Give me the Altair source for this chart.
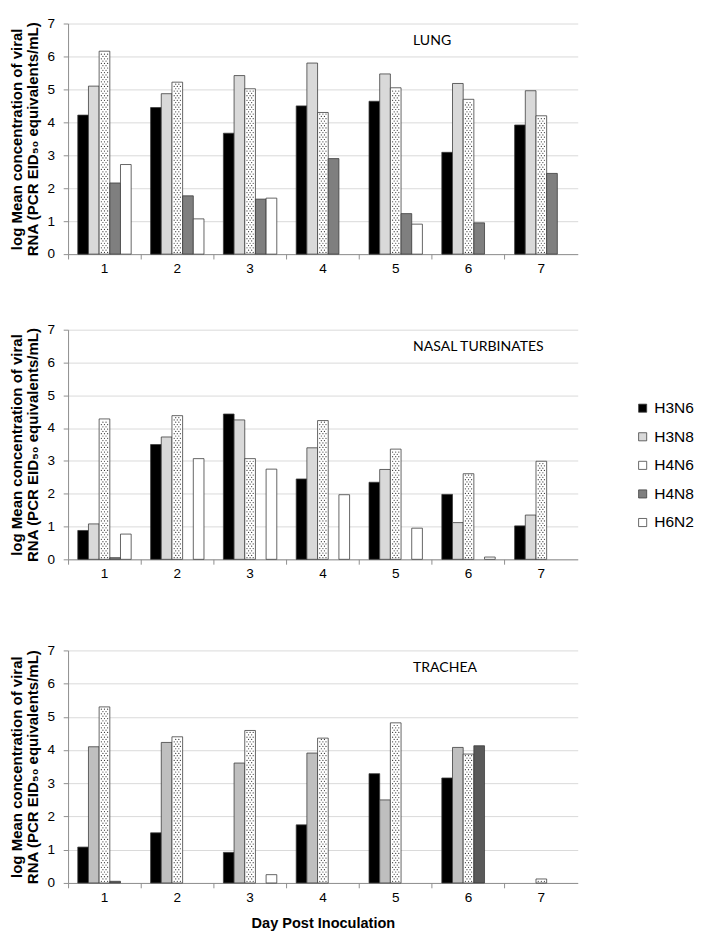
import altair as alt
import pandas as pd

days = ["1", "2", "3", "4", "5", "6", "7"]
series = ["H3N6", "H3N8", "H4N6", "H4N8", "H6N2"]

lung = {
    "H3N6": [4.22, 4.45, 3.67, 4.50, 4.64, 3.09, 3.92],
    "H3N8": [5.10, 4.87, 5.42, 5.80, 5.47, 5.18, 4.96],
    "H4N6": [6.16, 5.22, 5.02, 4.30, 5.05, 4.70, 4.20],
    "H4N8": [2.16, 1.77, 1.67, 2.90, 1.23, 0.95, 2.45],
    "H6N2": [2.72, 1.07, 1.70, None, 0.91, None, None],
}
nasal = {
    "H3N6": [0.88, 3.50, 4.43, 2.45, 2.35, 1.98, 1.02],
    "H3N8": [1.08, 3.73, 4.25, 3.40, 2.74, 1.12, 1.35],
    "H4N6": [4.28, 4.38, 3.07, 4.23, 3.36, 2.61, 2.99],
    "H4N8": [0.05, None, None, None, None, None, None],
    "H6N2": [0.77, 3.07, 2.75, 1.97, 0.95, 0.07, None],
}
trachea = {
    "H3N6": [1.08, 1.51, 0.92, 1.75, 3.29, 3.16, None],
    "H3N8": [4.10, 4.23, 3.61, 3.91, 2.50, 4.08, None],
    "H4N6": [5.30, 4.40, 4.59, 4.36, 4.82, 3.88, 0.12],
    "H4N8": [0.05, None, None, None, None, 4.13, None],
    "H6N2": [None, None, 0.25, None, None, None, None],
}

colors_a = ["#000000", "#d9d9d9", "#ffffff", "#7f7f7f", "#ffffff"]
colors_b = ["#000000", "#bfbfbf", "#ffffff", "#595959", "#ffffff"]

FONT = "Liberation Sans"
YTITLE = ["log Mean concentration of viral", "RNA (PCR EID\u2085\u2080 equivalents/mL)"]
# sub-slots across one day band, used only to place the dot texture of the H4N6 bars
DOT_SLOTS = ["s%d" % i for i in range(47)]


def to_df(d):
    rows = []
    for s in series:
        for day, v in zip(days, d[s]):
            if v is not None:
                rows.append({"day": day, "series": s, "value": v})
    return pd.DataFrame(rows)


def panel(d, name, colors, height, show_legend=False, xtitle=None, spacer=False):
    df = to_df(d)
    base = alt.Chart(df)
    xscale = alt.Scale(domain=days, paddingInner=0, paddingOuter=0)
    xoff = alt.XOffset("series:N", scale=alt.Scale(domain=series, paddingInner=0, paddingOuter=0.91))
    dot_off = alt.XOffset("col:N", scale=alt.Scale(type="point", domain=DOT_SLOTS, padding=0.5))
    yscale = alt.Scale(domain=[0, 7], nice=False)
    yaxis = alt.Axis(
        title=YTITLE, values=[0, 1, 2, 3, 4, 5, 6, 7], labelFont=FONT, labelFontSize=14,
        labelColor="#000000", labelPadding=9, tickSize=5, tickColor="#8c8c8c",
        domainColor="#8c8c8c", gridColor="#d9d9d9", titleFont=FONT, titleFontSize=15.5,
        titleFontWeight="bold", titleColor="#000000", titleLineHeight=16, titlePadding=7,
        labelOverlap=False)

    if show_legend:
        legend = alt.Legend(
            title=None, orient="none", legendX=585, legendY=73,
            symbolType="square", symbolSize=70, symbolStrokeColor="#404040",
            symbolStrokeWidth=0.8, labelFont=FONT, labelFontSize=16,
            labelColor="#000000", rowPadding=13.5, labelOffset=4,
        )
    else:
        legend = None

    if xtitle:
        ttl = xtitle
        tpad = 12
    elif spacer:
        ttl = " "
        tpad = 1
    else:
        ttl = None
        tpad = 8

    bars = base.mark_bar(stroke="#3a3a3a", strokeWidth=0.8).encode(
        x=alt.X("day:N", scale=xscale, sort=days, axis=alt.Axis(
            title=ttl, labelAngle=0, ticks=False, labelFont=FONT, labelFontSize=14,
            labelColor="#000000", labelPadding=8, domainColor="#8c8c8c", grid=False,
            titleFont=FONT, titleFontSize=15, titleFontWeight="bold", titleColor="#000000",
            titlePadding=tpad)),
        xOffset=xoff,
        y=alt.Y("value:Q", scale=yscale, axis=yaxis),
        color=alt.Color("series:N", scale=alt.Scale(domain=series, range=colors), legend=legend),
    )

    layers = [bars]
    dot_sets = [
        ("sequence(0.05, datum.value - 0.03, 0.14)", "['s21','s23','s25']"),
        ("sequence(0.12, datum.value - 0.03, 0.14)", "['s22','s24']"),
    ]
    for i, (expr, cols) in enumerate(dot_sets):
        if i == 0:
            xax = alt.Axis(orient="bottom", labels=False, ticks=True, bandPosition=0,
                           tickSize=5, tickColor="#8c8c8c", domain=False, title=None, grid=False)
        else:
            xax = None
        dots = base.transform_filter(alt.datum.series == "H4N6").transform_calculate(
            lv=expr, col=cols
        ).transform_flatten(["lv"]).transform_flatten(["col"]).mark_circle(
            size=1.6, color="#3a3a3a", opacity=1
        ).encode(
            x=alt.X("day:N", scale=xscale, sort=days, axis=xax),
            xOffset=dot_off,
            y=alt.Y("lv:Q", scale=yscale, axis=yaxis),
        )
        layers.append(dots)

    label = alt.Chart(pd.DataFrame({"name": [name]})).mark_text(
        align="left", baseline="middle", font="Lato", fontSize=14.5, color="#000000"
    ).encode(x=alt.value(356), y=alt.value(18), text="name:N")
    layers.append(label)

    return alt.layer(*layers).resolve_axis(x="independent").resolve_scale(
        xOffset="independent"
    ).properties(width=526, height=height)


p1 = panel(lung, "LUNG", colors_a, 238)
p2 = panel(nasal, "NASAL TURBINATES", colors_a, 237, show_legend=True, spacer=True)
p3 = panel(trachea, "TRACHEA", colors_b, 240, xtitle="Day Post Inoculation")

chart = alt.vconcat(p1, p2, p3, spacing=49).resolve_scale(color="independent").configure_view(
    stroke=None
).properties(padding={"left": 2, "top": -6, "right": 0, "bottom": 0})

chart.save("out.html", embed_options={"renderer": "svg", "actions": False})
